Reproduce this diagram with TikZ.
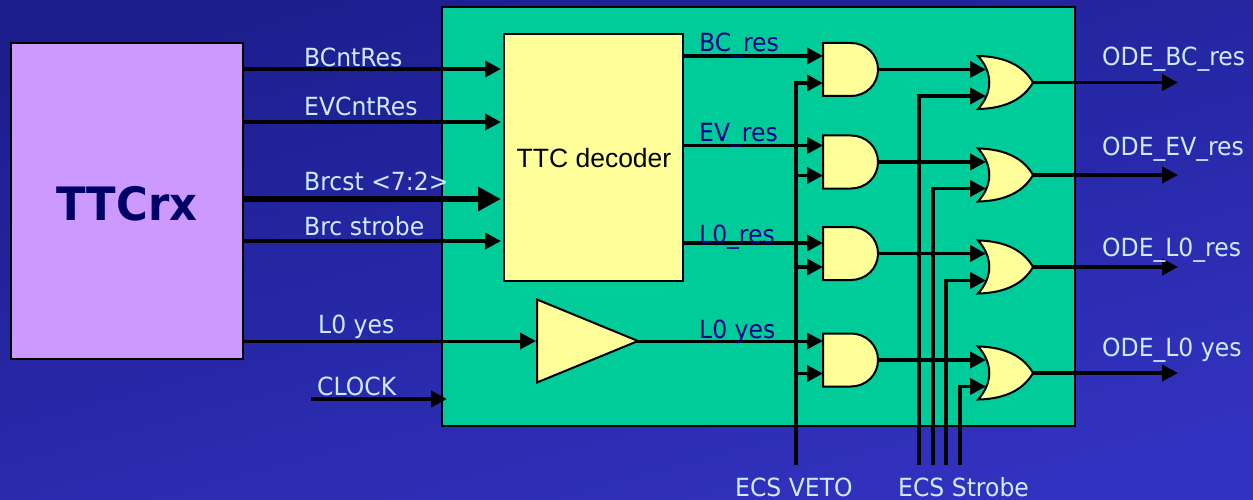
\documentclass[tikz,border=0pt]{standalone}
\usepackage{fontspec}
\setmainfont{DejaVu Sans}[FakeStretch=0.94]
\newfontfamily\arialfont{Liberation Sans}
\usepackage{tikz}
\usetikzlibrary{shapes.geometric, arrows.meta, positioning}
\definecolor{bgtop}{RGB}{28,30,142}
\definecolor{bgbottom}{RGB}{50,50,192}
\definecolor{boardgreen}{RGB}{0,204,153}
\definecolor{gateyellow}{RGB}{255,255,153}
\definecolor{rxviolet}{RGB}{204,153,255}
\definecolor{navytext}{RGB}{0,0,102}
\definecolor{palelabel}{RGB}{204,236,255}
\tikzset{
  wire/.style={line width=3.8pt, -{Triangle[length=16pt,width=16pt]}},
  bus/.style={line width=6.5pt, -{Triangle[length=23pt,width=23pt]}},
  block/.style={rectangle, draw=black, line width=2pt, inner sep=0pt},
  gateline/.style={draw=black, fill=gateyellow, line width=2pt},
  outlabel/.style={anchor=base west, inner sep=0pt, font=\fontsize{25}{25}\selectfont, text=palelabel},
  inlabel/.style={anchor=base west, inner sep=0pt, font=\fontsize{25}{25}\selectfont, text=navytext!80!blue},
  andgate/.pic={
    \path[gateline] (-28,-26.5) -- (0,-26.5) .. controls (15,-26.5) and (27,-15) .. (27,0)
      .. controls (27,15) and (15,26.5) .. (0,26.5) -- (-28,26.5) -- cycle;
    \coordinate (-in) at (-28,13.5);
    \coordinate (-out) at (27,0);
  },
  orgate/.pic={
    \path[gateline] (-28,-26.5) .. controls (0,-26) and (18,-16) .. (27,0)
      .. controls (18,16) and (0,26) .. (-28,26.5)
      .. controls (-13,10) and (-13,-10) .. (-28,-26.5) -- cycle;
    \coordinate (-ina) at (-20,-13.5);
    \coordinate (-inb) at (-20,13.5);
    \coordinate (-out) at (27,0);
  },
}
\begin{document}
\begin{tikzpicture}[x=1pt, y=-1pt]
    \useasboundingbox (0,0) rectangle (1253,500);
    \shade[top color=bgtop, bottom color=bgbottom, shading angle=15] (0,0) rectangle (1253,500);
    % main blocks
    \node[block, fill=boardgreen, minimum width=633pt, minimum height=419pt] (board) at (758.5,216.5) {};
    \node[block, fill=rxviolet, minimum width=232pt, minimum height=316pt] (ttcrx) at (127,201) {};
    \node[font=\bfseries\fontsize{46}{46}\selectfont, text=navytext, inner sep=0pt] (ttcrxname) at (127,204) {TTCrx};
    \node[block, fill=gateyellow, minimum width=179pt, minimum height=247pt] (decoder) at (593.5,157.5) {};
    \node[font=\arialfont\fontsize{26.5}{26.5}\selectfont, inner sep=0pt] (decodername) at (594,158) {TTC decoder};
    \node[isosceles triangle, isosceles triangle stretches, draw=black, fill=gateyellow, line width=2pt,
          minimum width=83pt, minimum height=101pt, inner sep=0pt, anchor=lower side, shape border rotate=0] (buffer) at (536,341) {};
    % gates
    \foreach \i/\ay/\oy in {1/69.5/82.5, 2/162/175, 3/253.5/267, 4/360/373}{
      \pic (and\i) at (851,\ay) {andgate};
      \pic (or\i) at (1006,\oy) {orgate};
      \draw[wire] (and\i-out) -- (and\i-out -| or\i-ina);
      \coordinate (odeout\i) at (1178,\oy);
      \draw[wire] (or\i-out) -- (odeout\i);
    }
    % inputs of the decoder
    \foreach \n/\y in {bcnt/69, evcnt/122, strobe/241}{
      \coordinate (\n) at (ttcrx.east |- 0,\y);
      \draw[wire, shorten >=2pt] (\n) -- (\n -| decoder.west);
    }
    \coordinate (brcst) at (ttcrx.east |- 0,199);
    \draw[bus, shorten >=2pt] (brcst) -- (brcst -| decoder.west);
    \coordinate (lzero) at (ttcrx.east |- 0,341);
    \draw[wire, line width=3pt] (lzero) -- (lzero -| buffer.lower side);
    \coordinate (clk) at (311,399);
    \coordinate (clkend) at (447,399);
    \draw[wire] (clk) -- (clkend);
    % outputs of the decoder
    \foreach \n/\y/\g in {bcres/56/1, evres/145.5/2, lres/243/3}{
      \coordinate (\n) at (decoder.east |- 0,\y);
      \draw[wire] (\n) -- (\n -| and\g-in);
    }
    \coordinate (lyes) at ([xshift=-4pt]buffer.apex);
    \draw[wire, line width=3pt] (lyes) -- (lyes -| and4-in);
    % ECS lines
    \coordinate (veto) at (796,465);
    \draw[wire] (veto) |- (and1-in);
    \foreach \g in {2,3,4}{
      \draw[wire] (veto |- and\g-in) -- (and\g-in);
    }
    \foreach \g/\x in {1/918.7, 2/933, 3/946, 4/960}{
      \coordinate (ecs\g) at (\x,465);
      \draw[wire] (ecs\g) |- (or\g-inb);
    }
    % labels
    \node[outlabel] (l1) at (304,67) {BCntRes};
    \node[outlabel] (l2) at (304,116) {EVCntRes};
    \node[outlabel] (l3) at (304,190) {Brcst <7:2>};
    \node[outlabel] (l4) at (304,235) {Brc strobe};
    \node[outlabel] (l5) at (318,333) {L0 yes};
    \node[outlabel] (l6) at (317,395) {CLOCK};
    \node[inlabel] (r1) at (699,52) {BC\_res};
    \node[inlabel] (r2) at (699,142) {EV\_res};
    \node[inlabel] (r3) at (699,243) {L0\_res};
    \node[inlabel] (r4) at (699,338) {L0 yes};
    \node[outlabel] (o1) at (1102,66) {ODE\_BC\_res};
    \node[outlabel] (o2) at (1102,156) {ODE\_EV\_res};
    \node[outlabel] (o3) at (1102,256) {ODE\_L0\_res};
    \node[outlabel] (o4) at (1102,356) {ODE\_L0 yes};
    \node[outlabel] (e1) at (735,496) {ECS VETO};
    \node[outlabel] (e2) at (898,496) {ECS Strobe};
\end{tikzpicture}
\end{document}
